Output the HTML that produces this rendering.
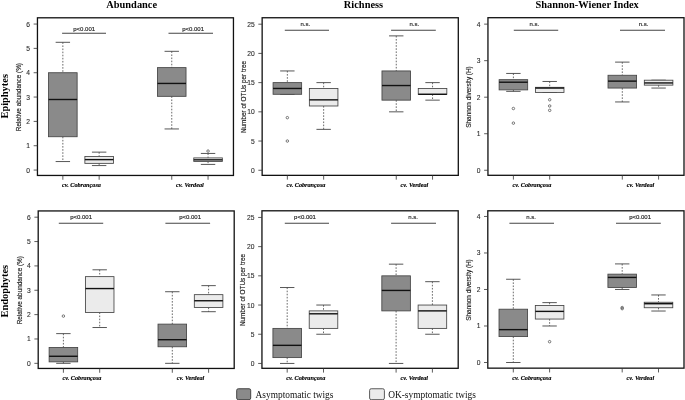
<!DOCTYPE html>
<html><head><meta charset="utf-8"><title>Boxplots</title>
<style>
html,body{margin:0;padding:0;background:#fff;}
body{width:685px;height:400px;overflow:hidden;}
svg{display:block;filter:grayscale(100%);}
.fr{fill:none;stroke:#111;stroke-width:1.3;}
.bx{stroke:#444;stroke-width:0.85;}
.md{stroke:#111;stroke-width:1.4;}
.wh{stroke:#444;stroke-width:0.8;stroke-dasharray:1.6 1.5;}
.st{stroke:#444;stroke-width:0.9;}
.tk{stroke:#333;stroke-width:0.8;}
.pl{stroke:#444;stroke-width:1.1;}
.ol{fill:none;stroke:#444;stroke-width:0.7;}
.tl{font-family:"Liberation Sans", sans-serif;font-size:6.7px;fill:#2a2a2a;stroke:#2a2a2a;stroke-width:0.1px;text-anchor:end;}
.pt{font-family:"Liberation Sans", sans-serif;font-size:6.0px;fill:#222;stroke:#222;stroke-width:0.15px;text-anchor:middle;}
.yt{font-family:"Liberation Sans", sans-serif;font-size:6.4px;fill:#222;stroke:#222;stroke-width:0.15px;text-anchor:middle;}
.xl{font-family:"Liberation Serif", serif;font-size:6.9px;font-weight:bold;font-style:italic;fill:#000;stroke:#000;stroke-width:0.15px;text-anchor:middle;}
.ct{font-family:"Liberation Serif", serif;font-size:10.4px;font-weight:bold;fill:#000;text-anchor:middle;}
.rt{font-family:"Liberation Serif", serif;font-size:10.4px;font-weight:bold;fill:#000;text-anchor:middle;}
.lg{font-family:"Liberation Serif", serif;font-size:9.4px;fill:#111;}
</style></head>
<body>
<svg width="685" height="400" viewBox="0 0 685 400">
<rect x="0" y="0" width="685" height="400" fill="#fff"/>
<line x1="62.85" y1="42.31" x2="62.85" y2="72.73" class="wh"/>
<line x1="62.85" y1="136.73" x2="62.85" y2="161.55" class="wh"/>
<line x1="55.65" y1="42.31" x2="70.05" y2="42.31" class="st"/>
<line x1="55.65" y1="161.55" x2="70.05" y2="161.55" class="st"/>
<rect x="48.57" y="72.73" width="28.56" height="64" fill="#8a8a8a" class="bx"/>
<line x1="48.57" y1="99.5" x2="77.13" y2="99.5" class="md"/>
<line x1="99.15" y1="152.14" x2="99.15" y2="156.56" class="wh"/>
<line x1="99.15" y1="163.38" x2="99.15" y2="165.57" class="wh"/>
<line x1="91.95" y1="152.14" x2="106.35" y2="152.14" class="st"/>
<line x1="91.95" y1="165.57" x2="106.35" y2="165.57" class="st"/>
<rect x="84.87" y="156.56" width="28.56" height="6.81" fill="#ebebeb" class="bx"/>
<line x1="84.87" y1="159.61" x2="113.43" y2="159.61" class="md"/>
<line x1="171.75" y1="51.32" x2="171.75" y2="67.62" class="wh"/>
<line x1="171.75" y1="96.33" x2="171.75" y2="128.94" class="wh"/>
<line x1="164.55" y1="51.32" x2="178.95" y2="51.32" class="st"/>
<line x1="164.55" y1="128.94" x2="178.95" y2="128.94" class="st"/>
<rect x="157.47" y="67.62" width="28.56" height="28.72" fill="#8a8a8a" class="bx"/>
<line x1="157.47" y1="83.44" x2="186.03" y2="83.44" class="md"/>
<line x1="208.05" y1="153.45" x2="208.05" y2="157.9" class="wh"/>
<line x1="208.05" y1="161.5" x2="208.05" y2="164.42" class="wh"/>
<line x1="200.85" y1="153.45" x2="215.25" y2="153.45" class="st"/>
<line x1="200.85" y1="164.42" x2="215.25" y2="164.42" class="st"/>
<rect x="193.77" y="157.9" width="28.56" height="3.6" fill="#ebebeb" class="bx"/>
<line x1="193.77" y1="159.85" x2="222.33" y2="159.85" class="md"/>
<circle cx="208.05" cy="151.09" r="1.25" class="ol"/>
<rect x="37.45" y="17.8" width="196" height="157.65" class="fr"/>
<line x1="33.65" y1="170.07" x2="37.45" y2="170.07" class="tk"/>
<text x="30.05" y="172.57" class="tl">0</text>
<line x1="33.65" y1="145.73" x2="37.45" y2="145.73" class="tk"/>
<text x="30.05" y="148.23" class="tl">1</text>
<line x1="33.65" y1="121.4" x2="37.45" y2="121.4" class="tk"/>
<text x="30.05" y="123.9" class="tl">2</text>
<line x1="33.65" y1="97.06" x2="37.45" y2="97.06" class="tk"/>
<text x="30.05" y="99.56" class="tl">3</text>
<line x1="33.65" y1="72.73" x2="37.45" y2="72.73" class="tk"/>
<text x="30.05" y="75.23" class="tl">4</text>
<line x1="33.65" y1="48.39" x2="37.45" y2="48.39" class="tk"/>
<text x="30.05" y="50.89" class="tl">5</text>
<line x1="33.65" y1="24.06" x2="37.45" y2="24.06" class="tk"/>
<text x="30.05" y="26.56" class="tl">6</text>
<line x1="62.85" y1="175.45" x2="62.85" y2="179.75" class="tk"/>
<line x1="99.15" y1="175.45" x2="99.15" y2="179.75" class="tk"/>
<line x1="171.75" y1="175.45" x2="171.75" y2="179.75" class="tk"/>
<line x1="208.05" y1="175.45" x2="208.05" y2="179.75" class="tk"/>
<text transform="translate(81.4,186.9) scale(0.9,1)" class="xl">cv. Cobrançosa</text>
<text transform="translate(189.9,186.9) scale(0.9,1)" class="xl">cv. Verdeal</text>
<line x1="62.1" y1="33.3" x2="106" y2="33.3" class="pl"/>
<text x="84.2" y="30.8" class="pt">p&lt;0.001</text>
<line x1="168.5" y1="33.3" x2="213" y2="33.3" class="pl"/>
<text x="193.1" y="30.8" class="pt">p&lt;0.001</text>
<text transform="translate(20.85,97.12) rotate(-90)" class="yt">Relative abundance (%)</text>
<line x1="287.35" y1="70.94" x2="287.35" y2="82.62" class="wh"/>
<line x1="280.15" y1="70.94" x2="294.55" y2="70.94" class="st"/>
<line x1="280.15" y1="94.3" x2="294.55" y2="94.3" class="st"/>
<rect x="273.07" y="82.62" width="28.56" height="11.68" fill="#8a8a8a" class="bx"/>
<line x1="273.07" y1="88.46" x2="301.63" y2="88.46" class="md"/>
<circle cx="287.35" cy="117.67" r="1.25" class="ol"/>
<circle cx="287.35" cy="141.04" r="1.25" class="ol"/>
<line x1="323.65" y1="82.62" x2="323.65" y2="88.46" class="wh"/>
<line x1="323.65" y1="105.99" x2="323.65" y2="129.36" class="wh"/>
<line x1="316.45" y1="82.62" x2="330.85" y2="82.62" class="st"/>
<line x1="316.45" y1="129.36" x2="330.85" y2="129.36" class="st"/>
<rect x="309.37" y="88.46" width="28.56" height="17.53" fill="#ebebeb" class="bx"/>
<line x1="309.37" y1="99.85" x2="337.93" y2="99.85" class="md"/>
<line x1="396.25" y1="35.88" x2="396.25" y2="70.94" class="wh"/>
<line x1="396.25" y1="100.15" x2="396.25" y2="111.83" class="wh"/>
<line x1="389.05" y1="35.88" x2="403.45" y2="35.88" class="st"/>
<line x1="389.05" y1="111.83" x2="403.45" y2="111.83" class="st"/>
<rect x="381.97" y="70.94" width="28.56" height="29.21" fill="#8a8a8a" class="bx"/>
<line x1="381.97" y1="85.54" x2="410.53" y2="85.54" class="md"/>
<line x1="432.55" y1="82.62" x2="432.55" y2="88.46" class="wh"/>
<line x1="432.55" y1="94.3" x2="432.55" y2="100.15" class="wh"/>
<line x1="425.35" y1="82.62" x2="439.75" y2="82.62" class="st"/>
<line x1="425.35" y1="100.15" x2="439.75" y2="100.15" class="st"/>
<rect x="418.27" y="88.46" width="28.56" height="5.84" fill="#ebebeb" class="bx"/>
<line x1="418.27" y1="94.3" x2="446.83" y2="94.3" class="md"/>
<rect x="262.15" y="17.75" width="196.15" height="157.6" class="fr"/>
<line x1="258.35" y1="170.25" x2="262.15" y2="170.25" class="tk"/>
<text x="254.75" y="172.75" class="tl">0</text>
<line x1="258.35" y1="141.04" x2="262.15" y2="141.04" class="tk"/>
<text x="254.75" y="143.54" class="tl">5</text>
<line x1="258.35" y1="111.83" x2="262.15" y2="111.83" class="tk"/>
<text x="254.75" y="114.33" class="tl">10</text>
<line x1="258.35" y1="82.62" x2="262.15" y2="82.62" class="tk"/>
<text x="254.75" y="85.12" class="tl">15</text>
<line x1="258.35" y1="53.41" x2="262.15" y2="53.41" class="tk"/>
<text x="254.75" y="55.91" class="tl">20</text>
<line x1="258.35" y1="24.2" x2="262.15" y2="24.2" class="tk"/>
<text x="254.75" y="26.7" class="tl">25</text>
<line x1="287.35" y1="175.35" x2="287.35" y2="179.65" class="tk"/>
<line x1="323.65" y1="175.35" x2="323.65" y2="179.65" class="tk"/>
<line x1="396.25" y1="175.35" x2="396.25" y2="179.65" class="tk"/>
<line x1="432.55" y1="175.35" x2="432.55" y2="179.65" class="tk"/>
<text transform="translate(305.9,187.1) scale(0.9,1)" class="xl">cv. Cobrançosa</text>
<text transform="translate(414.4,187.1) scale(0.9,1)" class="xl">cv. Verdeal</text>
<line x1="284.8" y1="30.3" x2="329" y2="30.3" class="pl"/>
<text x="305.3" y="25.8" class="pt">n.s.</text>
<line x1="391.1" y1="30.3" x2="435.8" y2="30.3" class="pl"/>
<text x="414.3" y="25.8" class="pt">n.s.</text>
<text transform="translate(245.55,97.05) rotate(-90)" class="yt">Number of OTUs per tree</text>
<line x1="513.4" y1="73.45" x2="513.4" y2="79.66" class="wh"/>
<line x1="513.4" y1="89.88" x2="513.4" y2="91.35" class="wh"/>
<line x1="506.2" y1="73.45" x2="520.6" y2="73.45" class="st"/>
<line x1="506.2" y1="91.35" x2="520.6" y2="91.35" class="st"/>
<rect x="499.12" y="79.66" width="28.56" height="10.23" fill="#8a8a8a" class="bx"/>
<line x1="499.12" y1="82.21" x2="527.68" y2="82.21" class="md"/>
<circle cx="513.4" cy="108.51" r="1.25" class="ol"/>
<circle cx="513.4" cy="123.13" r="1.25" class="ol"/>
<line x1="549.7" y1="81.48" x2="549.7" y2="87.33" class="wh"/>
<line x1="542.5" y1="81.48" x2="556.9" y2="81.48" class="st"/>
<line x1="542.5" y1="92.44" x2="556.9" y2="92.44" class="st"/>
<rect x="535.42" y="87.33" width="28.56" height="5.11" fill="#ebebeb" class="bx"/>
<line x1="535.42" y1="88.06" x2="563.98" y2="88.06" class="md"/>
<circle cx="549.7" cy="99.75" r="1.25" class="ol"/>
<circle cx="549.7" cy="105.96" r="1.25" class="ol"/>
<circle cx="549.7" cy="110.34" r="1.25" class="ol"/>
<line x1="622.3" y1="62.12" x2="622.3" y2="75.27" class="wh"/>
<line x1="622.3" y1="88.06" x2="622.3" y2="101.94" class="wh"/>
<line x1="615.1" y1="62.12" x2="629.5" y2="62.12" class="st"/>
<line x1="615.1" y1="101.94" x2="629.5" y2="101.94" class="st"/>
<rect x="608.02" y="75.27" width="28.56" height="12.79" fill="#8a8a8a" class="bx"/>
<line x1="608.02" y1="81.12" x2="636.58" y2="81.12" class="md"/>
<line x1="658.6" y1="85.14" x2="658.6" y2="88.06" class="wh"/>
<line x1="651.4" y1="80.2" x2="665.8" y2="80.2" class="st"/>
<line x1="651.4" y1="88.06" x2="665.8" y2="88.06" class="st"/>
<rect x="644.32" y="80.2" width="28.56" height="4.93" fill="#ebebeb" class="bx"/>
<line x1="644.32" y1="82.94" x2="672.88" y2="82.94" class="md"/>
<rect x="487.95" y="17.7" width="196.05" height="157.6" class="fr"/>
<line x1="484.15" y1="170.25" x2="487.95" y2="170.25" class="tk"/>
<text x="480.55" y="172.75" class="tl">0</text>
<line x1="484.15" y1="133.72" x2="487.95" y2="133.72" class="tk"/>
<text x="480.55" y="136.22" class="tl">1</text>
<line x1="484.15" y1="97.19" x2="487.95" y2="97.19" class="tk"/>
<text x="480.55" y="99.69" class="tl">2</text>
<line x1="484.15" y1="60.66" x2="487.95" y2="60.66" class="tk"/>
<text x="480.55" y="63.16" class="tl">3</text>
<line x1="484.15" y1="24.13" x2="487.95" y2="24.13" class="tk"/>
<text x="480.55" y="26.63" class="tl">4</text>
<line x1="513.4" y1="175.3" x2="513.4" y2="179.6" class="tk"/>
<line x1="549.7" y1="175.3" x2="549.7" y2="179.6" class="tk"/>
<line x1="622.3" y1="175.3" x2="622.3" y2="179.6" class="tk"/>
<line x1="658.6" y1="175.3" x2="658.6" y2="179.6" class="tk"/>
<text transform="translate(531.95,187.1) scale(0.9,1)" class="xl">cv. Cobrançosa</text>
<text transform="translate(640.45,187.1) scale(0.9,1)" class="xl">cv. Verdeal</text>
<line x1="513.8" y1="30.3" x2="558.2" y2="30.3" class="pl"/>
<text x="534.4" y="25.7" class="pt">n.s.</text>
<line x1="620" y1="30.3" x2="665" y2="30.3" class="pl"/>
<text x="643.5" y="25.7" class="pt">n.s.</text>
<text transform="translate(471.35,97) rotate(-90)" class="yt">Shannon diversity (H)</text>
<line x1="63.4" y1="333.62" x2="63.4" y2="347.5" class="wh"/>
<line x1="63.4" y1="361.87" x2="63.4" y2="363.33" class="wh"/>
<line x1="56.2" y1="333.62" x2="70.6" y2="333.62" class="st"/>
<line x1="56.2" y1="363.33" x2="70.6" y2="363.33" class="st"/>
<rect x="49.12" y="347.5" width="28.56" height="14.37" fill="#8a8a8a" class="bx"/>
<line x1="49.12" y1="356.27" x2="77.68" y2="356.27" class="md"/>
<circle cx="63.4" cy="316.08" r="1.25" class="ol"/>
<line x1="99.7" y1="269.81" x2="99.7" y2="276.63" class="wh"/>
<line x1="99.7" y1="312.43" x2="99.7" y2="327.53" class="wh"/>
<line x1="92.5" y1="269.81" x2="106.9" y2="269.81" class="st"/>
<line x1="92.5" y1="327.53" x2="106.9" y2="327.53" class="st"/>
<rect x="85.42" y="276.63" width="28.56" height="35.8" fill="#ebebeb" class="bx"/>
<line x1="85.42" y1="288.56" x2="113.98" y2="288.56" class="md"/>
<line x1="172.3" y1="291.73" x2="172.3" y2="324.12" class="wh"/>
<line x1="172.3" y1="346.77" x2="172.3" y2="363.33" class="wh"/>
<line x1="165.1" y1="291.73" x2="179.5" y2="291.73" class="st"/>
<line x1="165.1" y1="363.33" x2="179.5" y2="363.33" class="st"/>
<rect x="158.02" y="324.12" width="28.56" height="22.65" fill="#8a8a8a" class="bx"/>
<line x1="158.02" y1="339.71" x2="186.58" y2="339.71" class="md"/>
<line x1="208.6" y1="285.64" x2="208.6" y2="294.65" class="wh"/>
<line x1="208.6" y1="307.56" x2="208.6" y2="311.7" class="wh"/>
<line x1="201.4" y1="285.64" x2="215.8" y2="285.64" class="st"/>
<line x1="201.4" y1="311.7" x2="215.8" y2="311.7" class="st"/>
<rect x="194.32" y="294.65" width="28.56" height="12.91" fill="#ebebeb" class="bx"/>
<line x1="194.32" y1="300.74" x2="222.88" y2="300.74" class="md"/>
<rect x="38.2" y="210.94" width="196" height="157.51" class="fr"/>
<line x1="34.4" y1="363.33" x2="38.2" y2="363.33" class="tk"/>
<text x="30.8" y="365.83" class="tl">0</text>
<line x1="34.4" y1="338.97" x2="38.2" y2="338.97" class="tk"/>
<text x="30.8" y="341.47" class="tl">1</text>
<line x1="34.4" y1="314.62" x2="38.2" y2="314.62" class="tk"/>
<text x="30.8" y="317.12" class="tl">2</text>
<line x1="34.4" y1="290.26" x2="38.2" y2="290.26" class="tk"/>
<text x="30.8" y="292.76" class="tl">3</text>
<line x1="34.4" y1="265.91" x2="38.2" y2="265.91" class="tk"/>
<text x="30.8" y="268.41" class="tl">4</text>
<line x1="34.4" y1="241.55" x2="38.2" y2="241.55" class="tk"/>
<text x="30.8" y="244.05" class="tl">5</text>
<line x1="34.4" y1="217.2" x2="38.2" y2="217.2" class="tk"/>
<text x="30.8" y="219.7" class="tl">6</text>
<line x1="63.4" y1="368.45" x2="63.4" y2="372.75" class="tk"/>
<line x1="99.7" y1="368.45" x2="99.7" y2="372.75" class="tk"/>
<line x1="172.3" y1="368.45" x2="172.3" y2="372.75" class="tk"/>
<line x1="208.6" y1="368.45" x2="208.6" y2="372.75" class="tk"/>
<text transform="translate(81.95,380.4) scale(0.9,1)" class="xl">cv. Cobrançosa</text>
<text transform="translate(190.45,380.4) scale(0.9,1)" class="xl">cv. Verdeal</text>
<line x1="58.8" y1="223.3" x2="103.2" y2="223.3" class="pl"/>
<text x="81.1" y="218.8" class="pt">p&lt;0.001</text>
<line x1="165.4" y1="223.3" x2="210.1" y2="223.3" class="pl"/>
<text x="190.1" y="218.8" class="pt">p&lt;0.001</text>
<text transform="translate(21.6,290.19) rotate(-90)" class="yt">Relative abundance (%)</text>
<line x1="287.2" y1="287.52" x2="287.2" y2="328.4" class="wh"/>
<line x1="287.2" y1="357.6" x2="287.2" y2="363.44" class="wh"/>
<line x1="280" y1="287.52" x2="294.4" y2="287.52" class="st"/>
<line x1="280" y1="363.44" x2="294.4" y2="363.44" class="st"/>
<rect x="272.92" y="328.4" width="28.56" height="29.2" fill="#8a8a8a" class="bx"/>
<line x1="272.92" y1="345.34" x2="301.48" y2="345.34" class="md"/>
<line x1="323.5" y1="305.04" x2="323.5" y2="310.88" class="wh"/>
<line x1="323.5" y1="328.4" x2="323.5" y2="334.24" class="wh"/>
<line x1="316.3" y1="305.04" x2="330.7" y2="305.04" class="st"/>
<line x1="316.3" y1="334.24" x2="330.7" y2="334.24" class="st"/>
<rect x="309.22" y="310.88" width="28.56" height="17.52" fill="#ebebeb" class="bx"/>
<line x1="309.22" y1="313.8" x2="337.78" y2="313.8" class="md"/>
<line x1="396.1" y1="264.16" x2="396.1" y2="275.84" class="wh"/>
<line x1="396.1" y1="310.88" x2="396.1" y2="363.44" class="wh"/>
<line x1="388.9" y1="264.16" x2="403.3" y2="264.16" class="st"/>
<line x1="388.9" y1="363.44" x2="403.3" y2="363.44" class="st"/>
<rect x="381.82" y="275.84" width="28.56" height="35.04" fill="#8a8a8a" class="bx"/>
<line x1="381.82" y1="290.44" x2="410.38" y2="290.44" class="md"/>
<line x1="432.4" y1="281.68" x2="432.4" y2="305.04" class="wh"/>
<line x1="432.4" y1="328.4" x2="432.4" y2="334.24" class="wh"/>
<line x1="425.2" y1="281.68" x2="439.6" y2="281.68" class="st"/>
<line x1="425.2" y1="334.24" x2="439.6" y2="334.24" class="st"/>
<rect x="418.12" y="305.04" width="28.56" height="23.36" fill="#ebebeb" class="bx"/>
<line x1="418.12" y1="310.88" x2="446.68" y2="310.88" class="md"/>
<rect x="261.95" y="210.8" width="196.25" height="157.5" class="fr"/>
<line x1="258.15" y1="363.44" x2="261.95" y2="363.44" class="tk"/>
<text x="254.55" y="365.94" class="tl">0</text>
<line x1="258.15" y1="334.24" x2="261.95" y2="334.24" class="tk"/>
<text x="254.55" y="336.74" class="tl">5</text>
<line x1="258.15" y1="305.04" x2="261.95" y2="305.04" class="tk"/>
<text x="254.55" y="307.54" class="tl">10</text>
<line x1="258.15" y1="275.84" x2="261.95" y2="275.84" class="tk"/>
<text x="254.55" y="278.34" class="tl">15</text>
<line x1="258.15" y1="246.64" x2="261.95" y2="246.64" class="tk"/>
<text x="254.55" y="249.14" class="tl">20</text>
<line x1="258.15" y1="217.44" x2="261.95" y2="217.44" class="tk"/>
<text x="254.55" y="219.94" class="tl">25</text>
<line x1="287.2" y1="368.3" x2="287.2" y2="372.6" class="tk"/>
<line x1="323.5" y1="368.3" x2="323.5" y2="372.6" class="tk"/>
<line x1="396.1" y1="368.3" x2="396.1" y2="372.6" class="tk"/>
<line x1="432.4" y1="368.3" x2="432.4" y2="372.6" class="tk"/>
<text transform="translate(305.75,380.4) scale(0.9,1)" class="xl">cv. Cobrançosa</text>
<text transform="translate(414.25,380.4) scale(0.9,1)" class="xl">cv. Verdeal</text>
<line x1="284.8" y1="223.3" x2="329" y2="223.3" class="pl"/>
<text x="305" y="218.8" class="pt">p&lt;0.001</text>
<line x1="391.1" y1="223.3" x2="436" y2="223.3" class="pl"/>
<text x="413.2" y="218.8" class="pt">n.s.</text>
<text transform="translate(245.35,290.05) rotate(-90)" class="yt">Number of OTUs per tree</text>
<line x1="513.3" y1="279.26" x2="513.3" y2="309.2" class="wh"/>
<line x1="513.3" y1="336.58" x2="513.3" y2="362.5" class="wh"/>
<line x1="506.1" y1="279.26" x2="520.5" y2="279.26" class="st"/>
<line x1="506.1" y1="362.5" x2="520.5" y2="362.5" class="st"/>
<rect x="499.02" y="309.2" width="28.56" height="27.38" fill="#8a8a8a" class="bx"/>
<line x1="499.02" y1="329.64" x2="527.58" y2="329.64" class="md"/>
<line x1="549.6" y1="302.62" x2="549.6" y2="305.54" class="wh"/>
<line x1="549.6" y1="319.05" x2="549.6" y2="325.99" class="wh"/>
<line x1="542.4" y1="302.62" x2="556.8" y2="302.62" class="st"/>
<line x1="542.4" y1="325.99" x2="556.8" y2="325.99" class="st"/>
<rect x="535.32" y="305.54" width="28.56" height="13.51" fill="#ebebeb" class="bx"/>
<line x1="535.32" y1="311.39" x2="563.88" y2="311.39" class="md"/>
<circle cx="549.6" cy="341.69" r="1.25" class="ol"/>
<line x1="622.2" y1="263.92" x2="622.2" y2="274.15" class="wh"/>
<line x1="622.2" y1="287.47" x2="622.2" y2="289.48" class="wh"/>
<line x1="615" y1="263.92" x2="629.4" y2="263.92" class="st"/>
<line x1="615" y1="289.48" x2="629.4" y2="289.48" class="st"/>
<rect x="607.92" y="274.15" width="28.56" height="13.33" fill="#8a8a8a" class="bx"/>
<line x1="607.92" y1="277.43" x2="636.48" y2="277.43" class="md"/>
<circle cx="622.2" cy="308.65" r="1.25" class="ol"/>
<circle cx="622.2" cy="307.55" r="1.25" class="ol"/>
<line x1="658.5" y1="294.96" x2="658.5" y2="302.26" class="wh"/>
<line x1="658.5" y1="307.74" x2="658.5" y2="311.02" class="wh"/>
<line x1="651.3" y1="294.96" x2="665.7" y2="294.96" class="st"/>
<line x1="651.3" y1="311.02" x2="665.7" y2="311.02" class="st"/>
<rect x="644.22" y="302.26" width="28.56" height="5.48" fill="#ebebeb" class="bx"/>
<line x1="644.22" y1="303.72" x2="672.78" y2="303.72" class="md"/>
<rect x="487.8" y="210.8" width="196.2" height="157.35" class="fr"/>
<line x1="484" y1="362.5" x2="487.8" y2="362.5" class="tk"/>
<text x="480.4" y="365" class="tl">0</text>
<line x1="484" y1="325.99" x2="487.8" y2="325.99" class="tk"/>
<text x="480.4" y="328.49" class="tl">1</text>
<line x1="484" y1="289.48" x2="487.8" y2="289.48" class="tk"/>
<text x="480.4" y="291.98" class="tl">2</text>
<line x1="484" y1="252.97" x2="487.8" y2="252.97" class="tk"/>
<text x="480.4" y="255.47" class="tl">3</text>
<line x1="484" y1="216.46" x2="487.8" y2="216.46" class="tk"/>
<text x="480.4" y="218.96" class="tl">4</text>
<line x1="513.3" y1="368.15" x2="513.3" y2="372.45" class="tk"/>
<line x1="549.6" y1="368.15" x2="549.6" y2="372.45" class="tk"/>
<line x1="622.2" y1="368.15" x2="622.2" y2="372.45" class="tk"/>
<line x1="658.5" y1="368.15" x2="658.5" y2="372.45" class="tk"/>
<text transform="translate(531.85,380.4) scale(0.9,1)" class="xl">cv. Cobrançosa</text>
<text transform="translate(640.35,380.4) scale(0.9,1)" class="xl">cv. Verdeal</text>
<line x1="509.4" y1="223.3" x2="554" y2="223.3" class="pl"/>
<text x="531" y="218.7" class="pt">n.s.</text>
<line x1="616" y1="223.3" x2="660.8" y2="223.3" class="pl"/>
<text x="640.1" y="218.7" class="pt">p&lt;0.001</text>
<text transform="translate(471.2,289.98) rotate(-90)" class="yt">Shannon diversity (H)</text>
<text x="131.7" y="7.7" class="ct">Abundance</text>
<text x="363.5" y="7.7" class="ct">Richness</text>
<text x="587.2" y="7.7" class="ct">Shannon-Wiener Index</text>
<text transform="translate(7.7,96.3) rotate(-90)" class="rt">Epiphytes</text>
<text transform="translate(7.7,291.2) rotate(-90)" class="rt">Endophytes</text>
<rect x="236.7" y="388.75" width="14.0" height="10.9" rx="1.6" fill="#8a8a8a" stroke="#444" stroke-width="1"/>
<text x="255.6" y="398.2" class="lg">Asymptomatic twigs</text>
<rect x="369.6" y="388.75" width="14.8" height="10.9" rx="1.6" fill="#ebebeb" stroke="#5a5a5a" stroke-width="1"/>
<text x="388.2" y="398.0" class="lg">OK-symptomatic twigs</text>
</svg>
</body></html>
